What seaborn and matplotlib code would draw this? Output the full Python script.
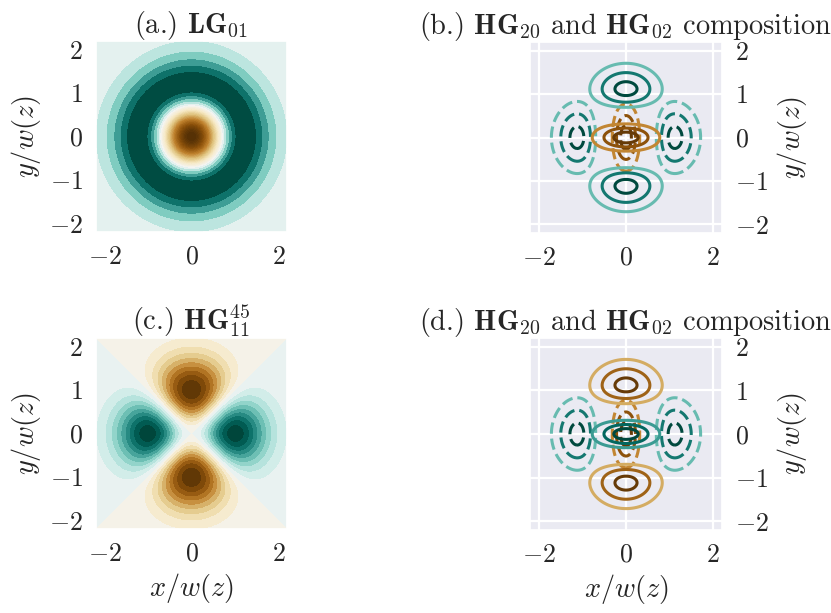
import numpy as np
import matplotlib
matplotlib.use("Agg")
import matplotlib.pyplot as plt
import seaborn as sns
from matplotlib.colors import TwoSlopeNorm, Normalize

# ---- data / parameters ----
grid_extent = [-2.2, 2.2]
grid_points = 500
x_ticks = [-2, 0, 2]
y_ticks = [-2, -1, 0, 1, 2]

# LG_01 (p = 1, l = 0) filled-contour levels (fine on the bright core, coarse on the ring)
lg_levels_ring = [-0.45, -0.37, -0.295, -0.22, -0.14, -0.065, 0.0]
lg_levels_core = list(np.round(np.linspace(0.0, 1.0, 41)[1:], 4))
lg_norm_range = [-0.4463, 0.0, 1.0]

# HG_11 rotated by 45 degrees
hg11_angle_deg = 45
hg11_levels = list(np.round(np.linspace(-1.5, 1.5, 21), 4))

# HG_20 / HG_02 line-contour levels
hg_line_levels = [-1.85, -1.55, -1.1, 1.15, 1.7, 2.15]
hg_norm_range = [-2.0, 2.29]

titles = [r"(a.) $\mathbf{LG}_{01}$",
          r"(b.) $\mathbf{HG}_{20}$ and $\mathbf{HG}_{02}$ composition",
          r"(c.) $\mathbf{HG}_{11}^{45}$",
          r"(d.) $\mathbf{HG}_{20}$ and $\mathbf{HG}_{02}$ composition"]
xlabel = r"$x/w(z)$"
ylabel = r"$y/w(z)$"

# ---- style ----
sns.set_theme(style="darkgrid", font_scale=1.7)
plt.rcParams["font.family"] = "serif"
plt.rcParams["font.serif"] = ["cmr10", "DejaVu Serif"]
plt.rcParams["mathtext.fontset"] = "cm"
plt.rcParams["axes.formatter.use_mathtext"] = True
plt.rcParams["grid.linewidth"] = 1.6

# ---- fields ----
g = np.linspace(grid_extent[0], grid_extent[1], grid_points)
X, Y = np.meshgrid(g, g)
R2 = X**2 + Y**2
gauss = np.exp(-R2)

lg01 = np.polynomial.laguerre.lagval(2 * R2, [0, 1]) * gauss

th = np.deg2rad(hg11_angle_deg)
Xr = X * np.cos(th) + Y * np.sin(th)
Yr = -X * np.sin(th) + Y * np.cos(th)
hg11 = (np.polynomial.hermite.hermval(np.sqrt(2) * Xr, [0, 1]) *
        np.polynomial.hermite.hermval(np.sqrt(2) * Yr, [0, 1]) * gauss)

hg20 = np.polynomial.hermite.hermval(np.sqrt(2) * X, [0, 0, 1]) * gauss
hg02 = np.polynomial.hermite.hermval(np.sqrt(2) * Y, [0, 0, 1]) * gauss

# ---- figure ----
W, H = 831, 613
fig = plt.figure(figsize=(W / 100, H / 100), dpi=100)

def px_axes(left, top, right, bottom):
    return fig.add_axes([left / W, 1 - bottom / H, (right - left) / W, (bottom - top) / H])

ax_a = px_axes(96, 41, 287, 232)
ax_b = px_axes(530, 42, 722, 233)
ax_c = px_axes(96, 338, 287, 529)
ax_d = px_axes(530, 338, 722, 530)

# (a) LG01
ax_a.contourf(X, Y, lg01, levels=lg_levels_ring + lg_levels_core, cmap="BrBG_r",
              norm=TwoSlopeNorm(vmin=lg_norm_range[0], vcenter=lg_norm_range[1],
                                vmax=lg_norm_range[2]))

# (c) HG11 rotated
ax_c.contourf(X, Y, hg11, levels=hg11_levels, cmap="BrBG_r",
              norm=Normalize(hg11_levels[0], hg11_levels[-1]))

# (b) and (d) compositions
hnorm = Normalize(hg_norm_range[0], hg_norm_range[1])
for ax, solid_cmap in [(ax_b, "BrBG"), (ax_d, "BrBG_r")]:
    ax.contour(X, Y, hg20, levels=hg_line_levels, cmap="BrBG", norm=hnorm,
               linewidths=2.2, linestyles="dashed")
    ax.contour(X, Y, hg02, levels=hg_line_levels, cmap=solid_cmap, norm=hnorm,
               linewidths=2.2, linestyles="solid")

for ax, t in zip([ax_a, ax_b, ax_c, ax_d], titles):
    ax.set_xlim(grid_extent)
    ax.set_ylim(grid_extent)
    ax.set_xticks(x_ticks)
    ax.set_yticks(y_ticks)
    ax.set_title(t)
    ax.set_ylabel(ylabel)

for ax in [ax_b, ax_d]:
    ax.tick_params(axis="y", left=False, right=False, labelleft=False, labelright=True)
    ax.yaxis.set_label_position("right")

for ax in [ax_c, ax_d]:
    ax.set_xlabel(xlabel)

fig.savefig("out.png", dpi=100)
